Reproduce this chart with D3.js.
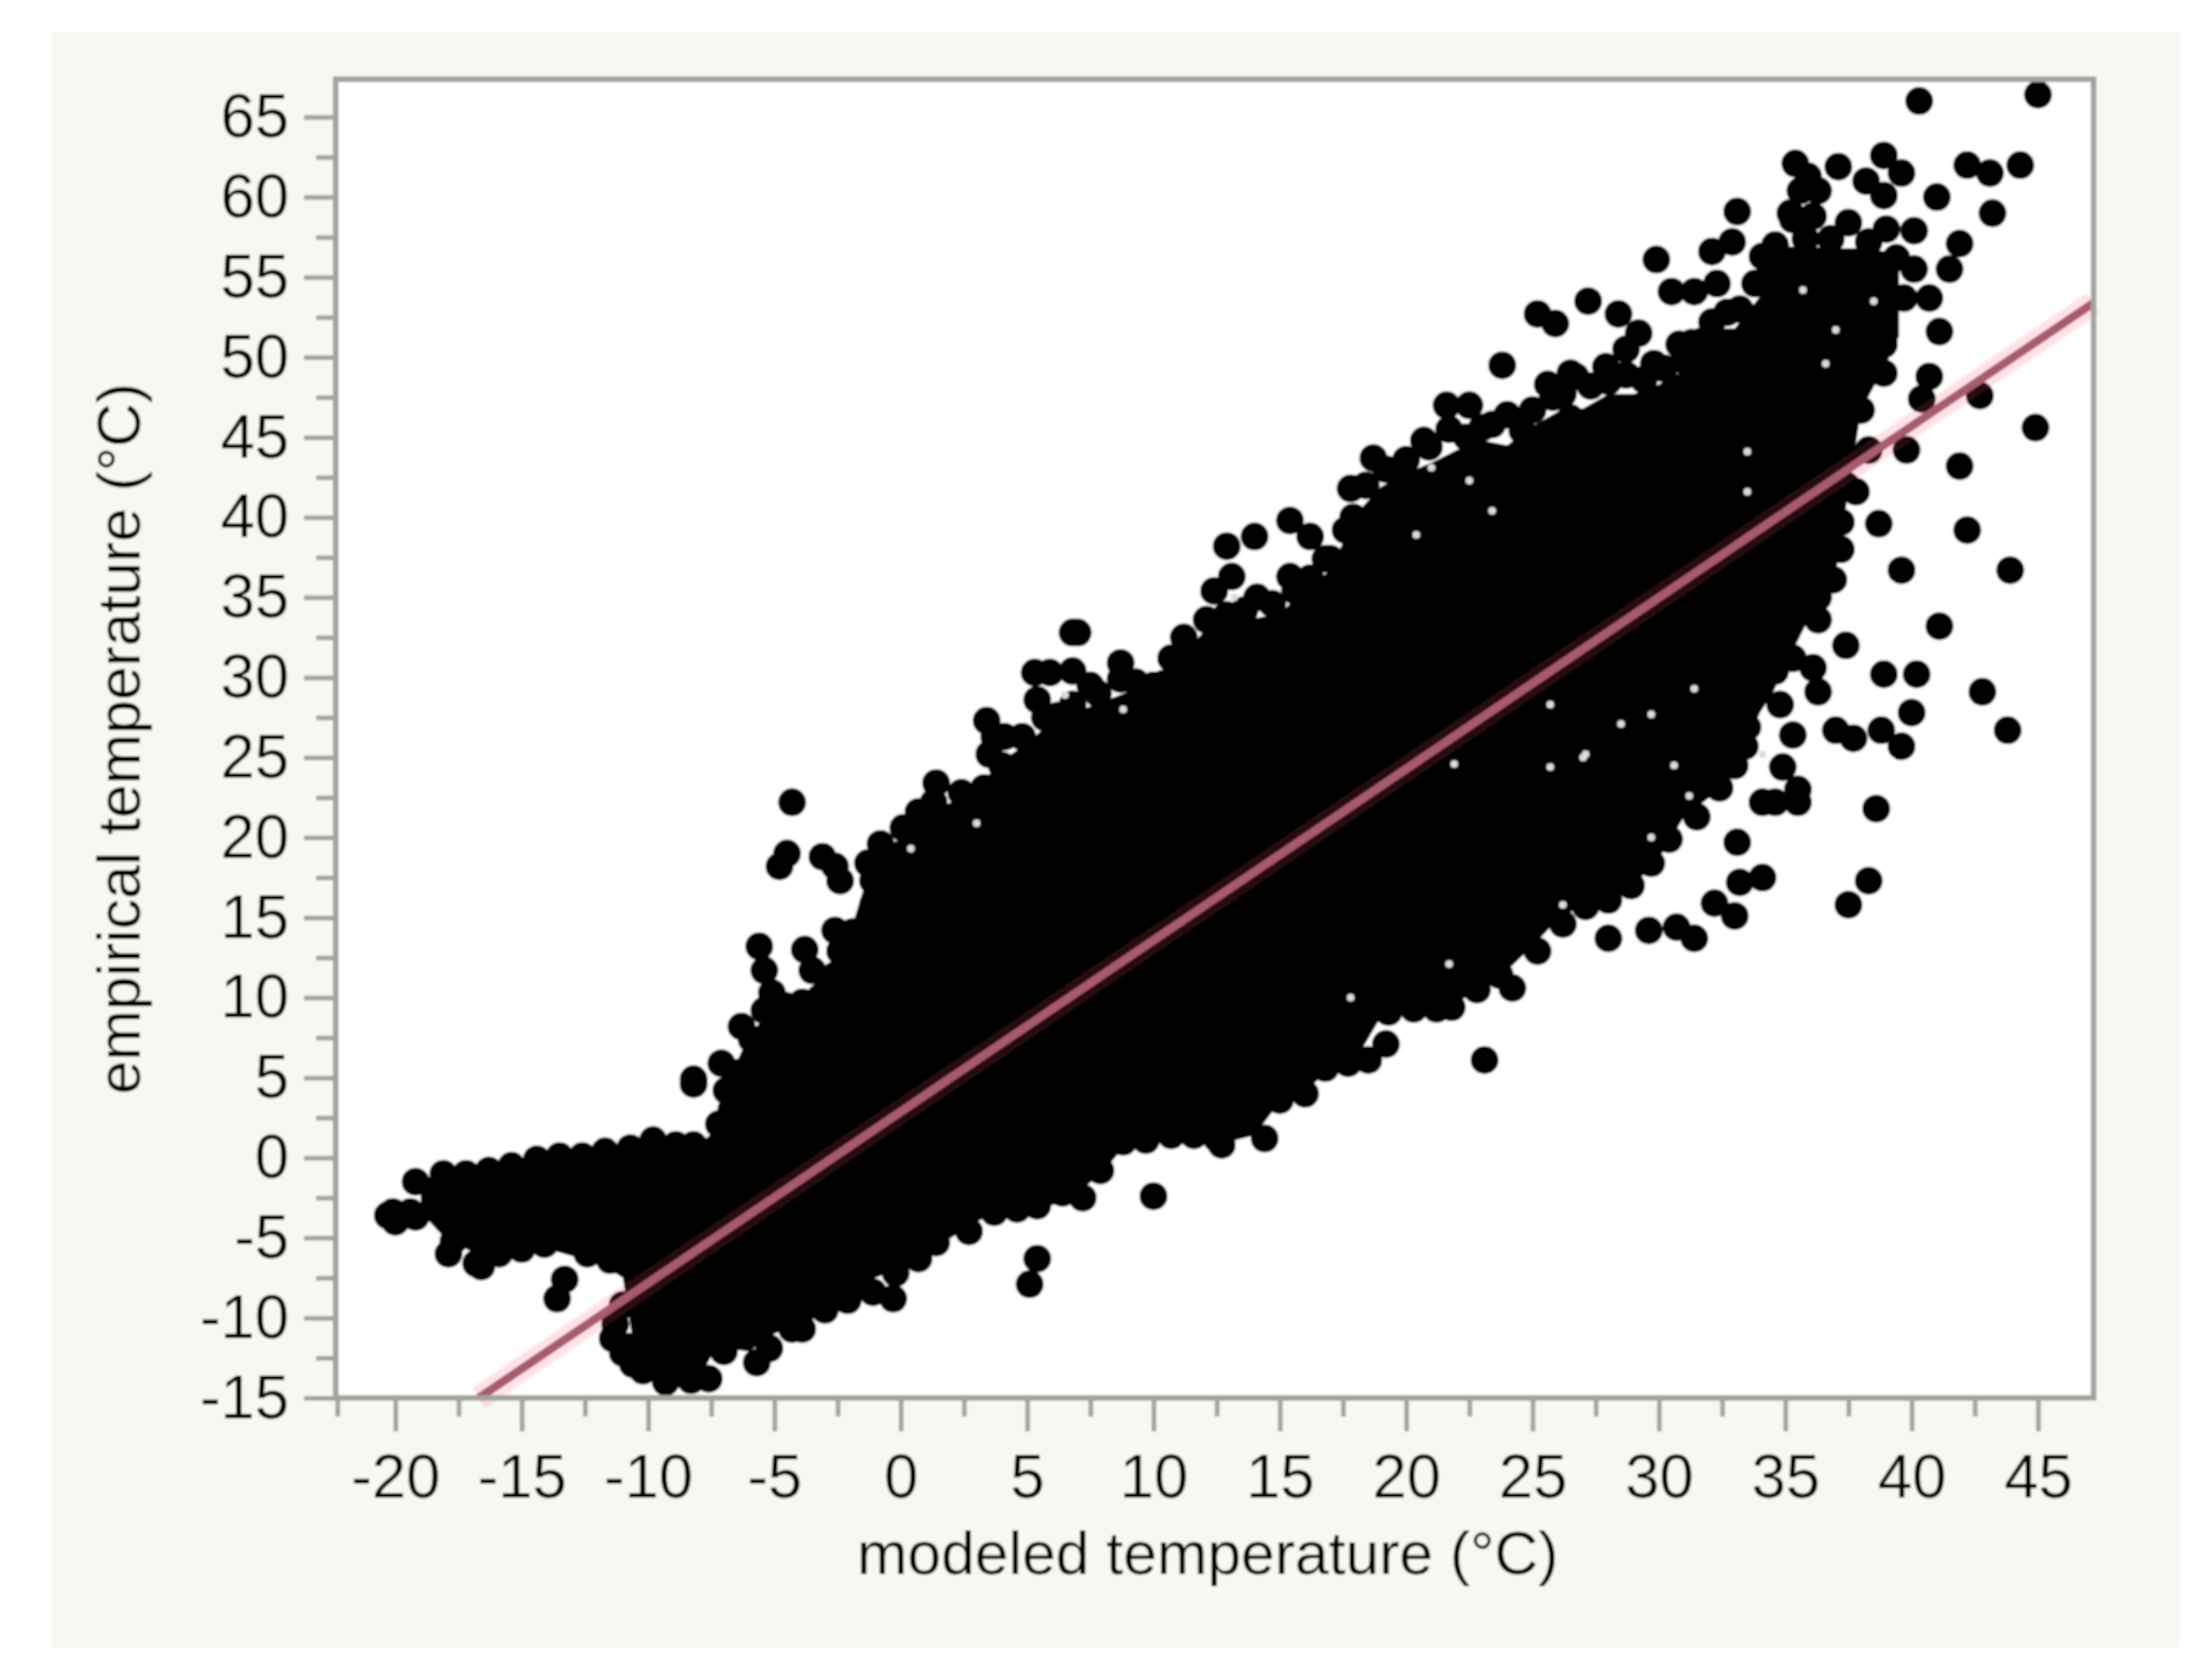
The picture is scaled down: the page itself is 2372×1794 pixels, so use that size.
<!DOCTYPE html>
<html>
<head>
<meta charset="utf-8">
<title>modeled vs empirical temperature</title>
<script src="https://cdnjs.cloudflare.com/ajax/libs/d3/7.8.5/d3.min.js"></script>
<style>
    html, body { margin: 0; padding: 0; background: #fff; }
    svg { display: block; }
    text { font-family: "Liberation Sans", Arial, sans-serif; fill: #000; }
</style>
</head>
<body>
<div id="chart"></div>
<script>
    var xTicks = [-20, -15, -10, -5, 0, 5, 10, 15, 20, 25, 30, 35, 40, 45];
    var yTicks = [-15, -10, -5, 0, 5, 10, 15, 20, 25, 30, 35, 40, 45, 50, 55, 60, 65];
    var xMinorTicks = [-22.3, -17.5, -12.5, -7.5, -2.5, 2.5, 7.5, 12.5, 17.5, 22.5, 27.5, 32.5, 37.5, 42.5];
    var yMinorTicks = [-12.5, -7.5, -2.5, 2.5, 7.5, 12.5, 17.5, 22.5, 27.5, 32.5, 37.5, 42.5, 47.5, 52.5, 57.5, 62.5];

    // fit line, read at the two places it leaves the frame
    var fitX = [-16.7, 47.2];
    var fitY = [-15, 53.4];

    // the middle of the cloud is solid black in the source, single points can't
    // be told apart there, so it is an envelope read per column (modeled, high, low)
    var coreX = [-19, -18, -16, -14, -12, -11.5, -11, -10.5, -10, -9, -8, -7.5, -7, -6, -5, -4, -3, -2, -1, 0, 1, 2, 3, 4, 5, 6, 7, 8, 9, 10, 11, 12, 13, 14, 15, 16, 17, 18, 19, 20, 21, 22, 23, 24, 25, 26, 27, 28, 29, 30, 31, 32, 33, 34, 34.5, 35, 36, 37, 38, 39, 39.5];
    var coreHigh = [-1.3, -1.0, -0.5, 0.0, 0.3, 0.3, 0.4, 0.7, 1.0, 1.1, 0.8, 1.5, 4.2, 7.7, 9.4, 9.7, 11.7, 14.1, 19.2, 19.9, 21.6, 22.2, 23.1, 24.8, 25.9, 27.3, 27.9, 28.5, 29.1, 28.9, 31.1, 32.9, 33.5, 33.7, 34.0, 35.5, 36.7, 40.2, 41.9, 42.8, 43.4, 44.2, 44.8, 44.5, 45.7, 46.6, 46.8, 47.7, 47.7, 48.3, 49.2, 51.8, 51.8, 53.8, 55.5, 56.9, 56.9, 56.8, 56.8, 56.6, 55.5];
    var coreLow = [-3.4, -5.1, -6.6, -5.7, -6.6, -7.0, -7.5, -12.5, -14.0, -14.0, -13.9, -12.4, -11.9, -12.1, -11.0, -10.4, -9.8, -8.9, -7.5, -6.9, -5.7, -5.0, -4.0, -3.2, -3.1, -2.2, -2.2, -0.9, 1.0, 1.1, 1.4, 1.4, 1.0, 1.4, 3.5, 4.1, 5.6, 6.1, 8.8, 9.2, 9.3, 9.7, 10.6, 11.7, 13.2, 14.9, 15.8, 16.4, 17.0, 18.7, 21.3, 22.5, 24.3, 27.8, 29, 30.7, 33.9, 36.5, 46.7, 49.6, 51.3];

    var tailPoints = [
        [-20.3, -3.6], [-20.1, -3.4], [-20.0, -4.0], [-19.4, -3.4], [-19.2, -1.5], [-19.2, -3.7],
        [-18.1, -1.0], [-17.2, -1.0], [-16.3, -0.8], [-15.4, -0.5], [-14.4, -0.1], [-13.5, 0.1],
        [-12.6, 0.1], [-11.7, 0.4], [-10.7, 0.6], [-9.8, 1.1], [-8.9, 0.8], [-8.2, 0.8],
        [-17.7, -5.2], [-17.9, -6.0], [-16.8, -6.6], [-16.6, -6.8], [-15.9, -6.0], [-15.0, -5.7],
        [-14.1, -5.4], [-13.3, -7.6], [-13.6, -8.8], [-12.4, -6.0], [-11.5, -6.4], [-10.6, -6.3]
    ];

    var upperEdgePoints = [
        [-7.2, 2.1], [-6.7, 3.0], [-6.9, 4.2], [-6.5, 5.3], [-7.1, 5.9], [-6.3, 8.2], [-5.9, 7.4],
        [-5.4, 9.2], [-4.6, 9.5], [-3.9, 9.7], [-3.2, 10.0], [-2.6, 11.4], [-1.9, 14.1], [-1.1, 15.8],
        [-1.1, 17.3], [-1.3, 18.4], [-0.8, 19.6], [0.1, 20.6], [0.7, 21.6], [1.4, 23.4], [1.3, 22.2],
        [2.4, 22.8], [3.3, 23.1], [3.4, 27.3], [3.7, 26.3], [4.1, 26.3], [3.5, 25.2], [4.0, 24.5],
        [4.8, 26.3], [5.3, 30.3], [5.9, 30.3], [6.8, 30.4], [5.4, 28.6], [5.7, 27.5], [7.5, 29.5],
        [8.7, 30.9], [8.7, 29.9], [10.0, 29.5], [10.7, 31.2], [11.2, 32.5], [11.4, 31.5], [12.1, 33.6],
        [12.9, 38.2], [14.0, 38.8], [13.1, 36.3], [12.4, 35.4], [14.1, 35.0], [15.4, 39.8], [16.2, 38.8],
        [15.4, 36.3], [17.6, 39.2], [16.8, 37.4], [17.8, 41.8], [18.7, 43.7], [18.4, 42.0], [19.7, 42.6],
        [20.7, 44.8], [21.6, 47.0], [22.5, 47.0], [21.7, 45.5], [23.4, 45.8], [24.0, 46.4], [23.8, 49.5],
        [25.6, 48.3], [26.5, 49.0], [26.5, 46.2], [25.2, 52.7], [25.9, 52.1], [27.2, 53.5], [28.4, 52.7],
        [29.2, 51.5], [30.5, 54.1], [31.4, 54.1], [32.3, 54.6], [32.1, 56.6], [32.9, 57.2], [26.7, 48.8],
        [27.9, 49.4], [29.8, 49.6], [28.7, 50.5], [30.8, 50.8], [31.3, 50.9], [32.1, 52.2], [34.1, 56.3],
        [34.6, 57.0], [35.2, 59.0],
        [6.2, 27.6], [6.8, 28.3], [7.8, 29.0], [9.3, 29.7], [10.4, 29.6], [12.9, 33.9], [13.6, 34.2],
        [14.7, 34.6], [15.6, 35.4], [16.2, 36.2], [17.0, 37.4], [17.9, 40.0],
        [19.2, 43.0], [20.0, 43.6], [20.9, 44.4], [22.4, 45.0], [23.0, 45.6], [24.6, 45.4], [25.0, 46.7],
        [25.8, 47.5], [26.2, 47.7], [27.3, 48.2], [28.0, 48.5], [28.7, 48.9], [29.4, 48.6], [30.2, 49.3],
        [31.0, 49.8], [31.7, 51.0], [32.7, 52.8], [33.2, 53.0], [33.8, 54.6], [34.4, 55.6],
        [35.3, 58.6], [35.8, 57.4], [36.1, 58.8], [36.8, 57.4], [37.5, 58.4], [38.3, 57.2], [39.0, 58.0],
        [39.4, 56.2], [36.3, 60.4], [35.9, 61.3]
    ];

    var lowerEdgePoints = [
        [-11.3, -10.4], [-11.4, -11.3], [-11.0, -9.2], [-10.8, -11.8], [-11.0, -12.2], [-10.2, -13.3],
        [-10.6, -12.9], [-9.3, -14.0], [-8.3, -13.9],
        [-7.6, -13.8], [-7.0, -12.1], [-5.7, -12.8], [-5.2, -11.9], [-4.3, -10.7], [-3.9, -10.7],
        [-3.0, -9.5], [-2.1, -8.9], [-1.1, -8.4], [-0.2, -7.2], [0.7, -6.3], [1.4, -5.3], [2.7, -4.6],
        [3.7, -3.4], [4.6, -3.2], [5.4, -3.0], [5.9, -2.1], [6.4, -2.2], [7.2, -2.5], [7.9, -0.8],
        [8.8, 1.0], [9.7, 1.1], [10.7, 1.4], [11.6, 1.4], [12.5, 1.2], [12.7, 0.8], [14.4, 1.2],
        [15.0, 3.6], [16.0, 4.0], [16.8, 5.6], [17.7, 5.9], [18.5, 6.1], [19.2, 7.1], [19.3, 9.1],
        [20.3, 9.3], [21.2, 9.3], [21.8, 9.4], [22.8, 10.5], [23.7, 11.4], [24.2, 10.6], [25.2, 12.9],
        [26.2, 14.6], [27.1, 15.7], [28.0, 16.1], [28.9, 17.0], [29.7, 18.4], [30.4, 19.9], [31.5, 21.3],
        [32.4, 23.1], [33.0, 24.5], [33.4, 25.7], [33.5, 26.9], [34.6, 30.4], [35.3, 31.2], [36.3, 33.6],
        [36.3, 35.0], [36.9, 36.1], [37.2, 38.0], [37.2, 39.7], [37.4, 42.0], [37.3, 43.8], [37.3, 45.5],
        [38.0, 46.7], [38.9, 49.0], [38.9, 50.8], [38.9, 52.5], [38.9, 54.3], [38.9, 55.6]
    ];

    var outlierPoints = [
        [40.3, 66.0], [45.0, 66.4], [35.4, 62.1], [35.6, 60.4], [37.1, 61.9], [38.9, 62.6], [39.6, 61.5],
        [38.2, 61.0], [38.9, 60.1], [42.2, 62.0], [43.1, 61.5], [44.3, 62.0], [41.0, 60.0], [43.2, 59.0],
        [33.1, 59.1], [29.9, 56.1], [40.1, 57.9], [41.9, 57.1], [40.1, 55.5], [41.5, 55.5], [40.7, 53.7],
        [39.7, 53.7], [41.1, 51.6], [40.7, 48.8], [40.4, 47.4], [42.7, 47.6], [44.9, 45.6], [39.8, 44.2],
        [38.3, 44.2], [41.9, 43.2], [37.8, 41.6], [38.7, 39.6], [42.2, 39.2], [39.6, 36.7], [43.9, 36.7],
        [41.1, 33.2], [37.4, 32.0], [36.1, 30.6], [38.9, 30.2], [40.2, 30.2], [42.8, 29.1], [36.3, 29.1],
        [40.0, 27.8], [43.8, 26.7], [34.8, 28.3], [35.3, 26.4], [37.0, 26.7], [37.7, 26.2], [38.8, 26.7],
        [39.6, 25.7], [34.9, 24.4], [35.5, 23.0], [35.5, 22.2], [34.1, 22.2], [34.6, 22.2], [38.6, 21.8],
        [33.1, 19.7], [34.1, 17.5], [33.2, 17.2], [38.3, 17.3], [37.5, 15.8], [32.2, 15.9], [33.0, 15.1],
        [28.0, 13.7], [29.6, 14.2], [30.7, 14.4], [31.4, 13.7], [23.1, 6.1], [10.0, -2.4], [5.4, -6.3],
        [5.1, -7.9], [-0.3, -8.8], [7.0, 32.8], [6.8, 32.8], [-4.3, 22.2], [-4.8, 18.2], [-4.5, 19.0],
        [-3.1, 18.8], [-2.6, 18.2], [-2.4, 17.3], [-5.6, 13.2], [-5.4, 11.7], [-5.1, 10.3], [-3.8, 13.0],
        [-3.5, 11.7], [-2.6, 14.2], [-2.4, 12.9], [-8.2, 4.9], [-8.2, 4.6]
    ];

    // little holes that show through the black mass
    var gapSpots = [
        [21.0, 43.1], [22.5, 42.3], [23.4, 40.4], [20.4, 38.9], [21.9, 24.6], [25.7, 28.3], [27.0, 25.0],
        [25.7, 24.4], [28.5, 27.1], [29.7, 27.7], [29.7, 20.0], [31.4, 29.3], [34.1, 25.2], [30.6, 24.5],
        [31.2, 22.6], [26.2, 15.8], [21.7, 12.1], [17.8, 10.0], [27.1, 25.2], [13.2, 35.0], [0.4, 19.3],
        [3.0, 20.9], [6.5, 28.9], [8.8, 28.0], [35.7, 54.2], [38.5, 53.5], [37.0, 51.7], [36.6, 49.6],
        [33.5, 44.1], [33.5, 41.6]
    ];

    var xTitle = "modeled temperature (\u00B0C)";
    var yTitle = "empirical temperature (\u00B0C)";

    var width = 2372, height = 1794;
    var frame = {left: 360, right: 2245, top: 85, bottom: 1499};
    var axisColor = "#a3a49e";
    var dotRadius = 15;

    var svg = d3.select("#chart").append("svg")
        .attr("width", width)
        .attr("height", height);

    // source is a soft low-res scan, take the edge off everything
    svg.append("defs").append("filter")
        .attr("id", "soft")
        .attr("x", 0).attr("y", 0).attr("width", 1).attr("height", 1)
        .append("feGaussianBlur")
        .attr("stdDeviation", 0.9);

    var root = svg.append("g").attr("filter", "url(#soft)");

    root.append("rect")
        .attr("width", width)
        .attr("height", height)
        .attr("fill", "#fff");

    root.append("rect")
        .attr("x", 55)
        .attr("y", 34)
        .attr("width", 2282)
        .attr("height", 1733)
        .attr("fill", "#f7f7f3");

    root.append("rect")
        .attr("x", frame.left)
        .attr("y", frame.top)
        .attr("width", frame.right - frame.left)
        .attr("height", frame.bottom - frame.top)
        .attr("fill", "#fff");

    var x = d3.scaleLinear()
        .domain([-22.36, 47.2])
        .range([frame.left, frame.right]);

    var y = d3.scaleLinear()
        .domain([-15, 67.36])
        .range([frame.bottom, frame.top]);

    var core = d3.area()
        .x(function(d, i) { return x(coreX[i]); })
        .y0(function(d, i) { return y(coreLow[i]); })
        .y1(function(d, i) { return y(coreHigh[i]); });

    root.append("path")
        .attr("class", "core")
        .attr("d", core(coreX))
        .attr("fill", "#000");

    var points = tailPoints.concat(upperEdgePoints, lowerEdgePoints, outlierPoints);

    root.append("g")
        .attr("class", "points")
        .selectAll("circle")
        .data(points)
        .enter().append("circle")
        .attr("cx", function(d) { return x(d[0]); })
        .attr("cy", function(d) { return y(d[1]); })
        .attr("r", dotRadius)
        .attr("fill", "#000");

    root.append("g")
        .attr("class", "gaps")
        .selectAll("circle")
        .data(gapSpots)
        .enter().append("circle")
        .attr("cx", function(d) { return x(d[0]); })
        .attr("cy", function(d) { return y(d[1]); })
        .attr("r", 4)
        .attr("fill", "#ddd");

    var fitLine = d3.line()
        .x(function(d) { return x(d); })
        .y(function(d, i) { return y(fitY[i]); });

    root.append("path")
        .attr("d", fitLine(fitX))
        .attr("fill", "none")
        .attr("stroke", "#ff3d66")
        .attr("stroke-opacity", 0.15)
        .attr("stroke-width", 26);

    root.append("path")
        .attr("d", fitLine(fitX))
        .attr("fill", "none")
        .attr("stroke", "#a95a70")
        .attr("stroke-width", 9);

    function styleAxis(g) {
        g.select(".domain").remove();
        g.selectAll("line")
            .attr("stroke", axisColor)
            .attr("stroke-width", 5);
    }

    // String() so negatives keep the short hyphen of the source
    root.append("g")
        .attr("transform", "translate(0," + frame.bottom + ")")
        .call(d3.axisBottom(x).tickValues(xMinorTicks).tickSize(20).tickFormat(""))
        .call(styleAxis);

    root.append("g")
        .attr("class", "x-axis")
        .attr("transform", "translate(0," + frame.bottom + ")")
        .call(d3.axisBottom(x).tickValues(xTicks).tickSize(36).tickPadding(24).tickFormat(String))
        .call(styleAxis)
        .selectAll("text")
        .style("font-size", "66px");

    root.append("g")
        .attr("transform", "translate(" + frame.left + ",0)")
        .call(d3.axisLeft(y).tickValues(yMinorTicks).tickSize(21).tickFormat(""))
        .call(styleAxis);

    root.append("g")
        .attr("class", "y-axis")
        .attr("transform", "translate(" + frame.left + ",0)")
        .call(d3.axisLeft(y).tickValues(yTicks).tickSize(34).tickPadding(16).tickFormat(String))
        .call(styleAxis)
        .selectAll("text")
        .style("font-size", "66px");

    // plot frame, drawn last so it sits over the ticks and the line ends
    root.append("rect")
        .attr("x", frame.left)
        .attr("y", frame.top)
        .attr("width", frame.right - frame.left)
        .attr("height", frame.bottom - frame.top)
        .attr("fill", "none")
        .attr("stroke", axisColor)
        .attr("stroke-width", 6);

    root.append("text")
        .attr("x", 1295)
        .attr("y", 1688)
        .attr("text-anchor", "middle")
        .style("font-size", "65px")
        .text(xTitle);

    root.append("text")
        .attr("transform", "translate(150,792) rotate(-90)")
        .attr("text-anchor", "middle")
        .style("font-size", "65px")
        .text(yTitle);
</script>
</body>
</html>
